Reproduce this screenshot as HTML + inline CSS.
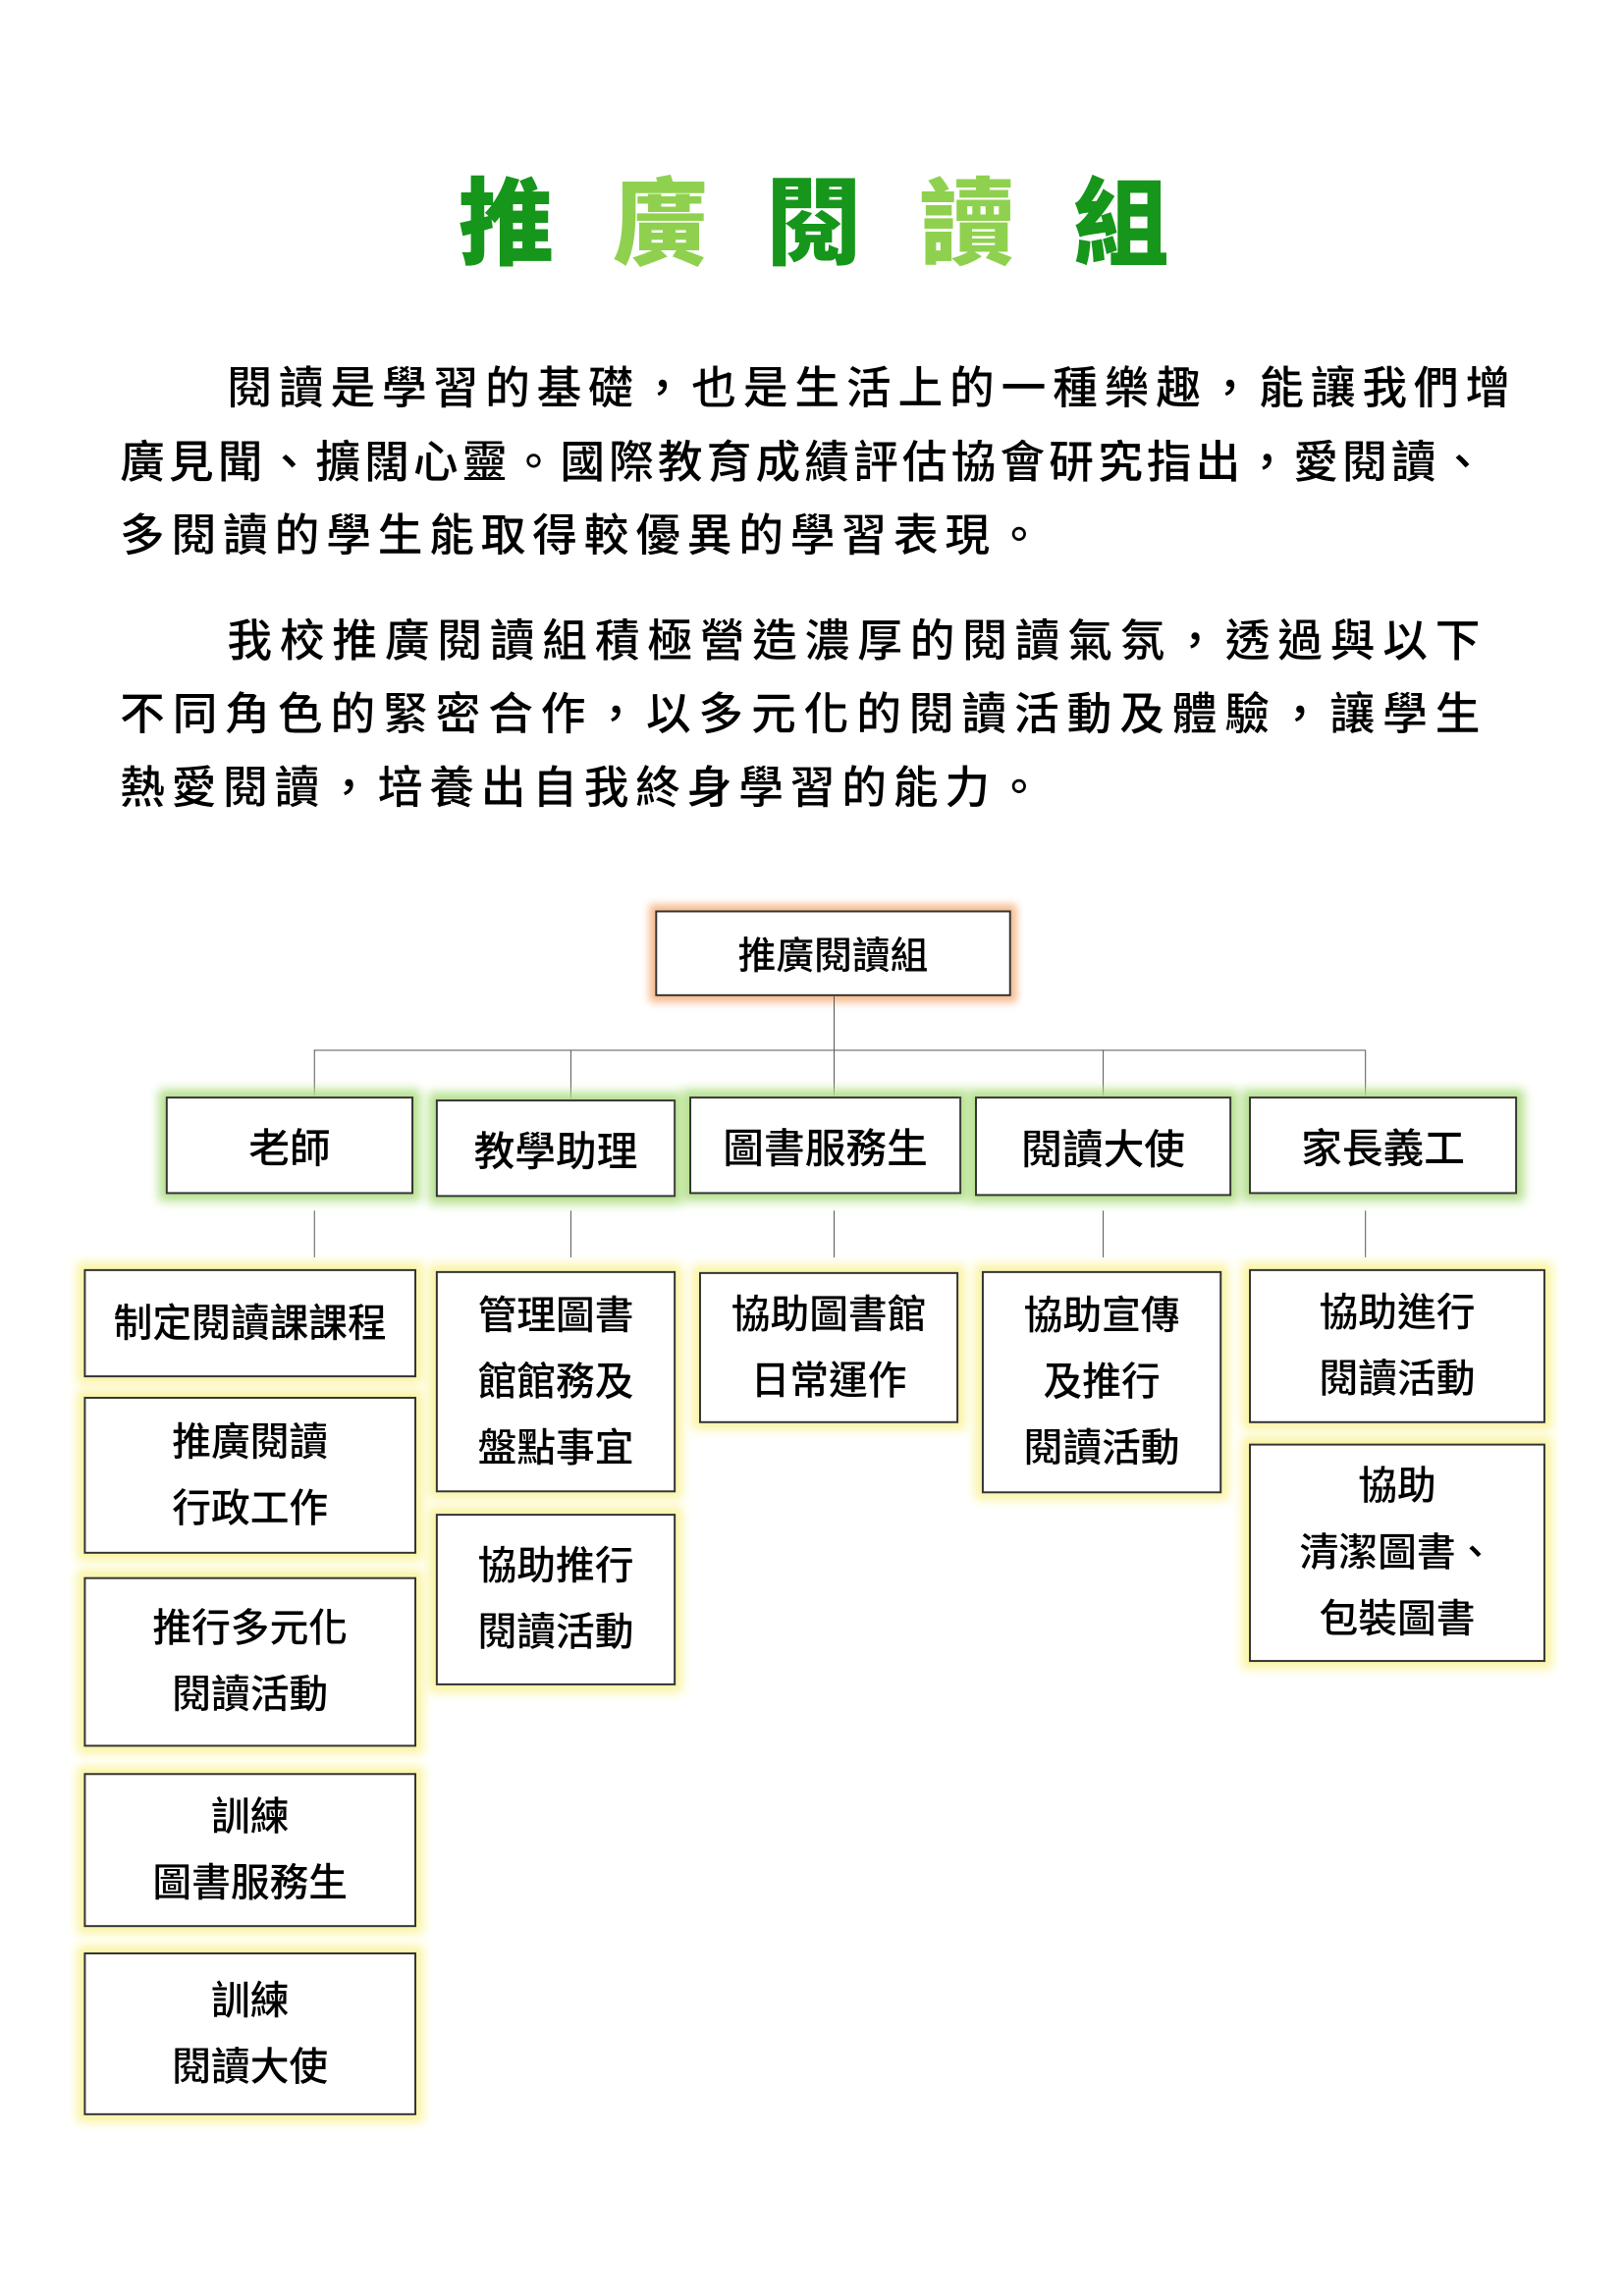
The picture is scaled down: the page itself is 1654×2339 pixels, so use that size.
<!DOCTYPE html>
<html><head><meta charset="utf-8">
<style>
html,body{margin:0;padding:0;background:#fff;}
body{width:1654px;height:2339px;position:relative;overflow:hidden;font-family:"Liberation Sans","Noto Sans CJK TC",sans-serif;color:#000;}
#w{position:absolute;left:0;top:0;width:1654px;height:2339px;transform:scale(0.993);transform-origin:0 0;}
.t{position:absolute;top:180px;font-size:98px;font-weight:900;line-height:100px;width:120px;text-align:center;}
.dk{color:#16961a;}.lt{color:#8fd14f;}
.ln{position:absolute;font-size:46px;line-height:60px;white-space:nowrap;text-align:justify;text-align-last:justify;font-weight:500;}
.b{position:absolute;box-sizing:border-box;border:2px solid #333;background:#fff;display:flex;align-items:center;justify-content:center;text-align:center;font-weight:500;}
.o{box-shadow:0 0 8px 6px #f6b98a;}
.g{box-shadow:0 0 10px 7px #b3e08a;font-size:42px;}
.y{box-shadow:0 0 10px 7px #faf4a0;font-size:40px;line-height:68px;}
.v{position:absolute;width:0;border-left:1.5px solid #555;}
.h{position:absolute;height:0;border-top:1.5px solid #555;}
</style></head><body><div id="w">
<div class="t dk" style="left:459px">推</div>
<div class="t lt" style="left:617px">廣</div>
<div class="t dk" style="left:775px">閱</div>
<div class="t lt" style="left:932px">讀</div>
<div class="t dk" style="left:1090px">組</div>

<div class="ln" style="left:233px;top:368px;width:1316px">閱讀是學習的基礎，也是生活上的一種樂趣，能讓我們增</div>
<div class="ln" style="left:123px;top:444px;width:1400px">廣見聞、擴闊心靈。國際教育成績評估協會研究指出，愛閱讀、</div>
<div class="ln" style="left:123px;top:519px;width:945px">多閱讀的學生能取得較優異的學習表現。</div>
<div class="ln" style="left:233px;top:627px;width:1285px">我校推廣閱讀組積極營造濃厚的閱讀氣氛，透過與以下</div>
<div class="ln" style="left:123px;top:702px;width:1395px">不同角色的緊密合作，以多元化的閱讀活動及體驗，讓學生</div>
<div class="ln" style="left:123px;top:778px;width:945px">熱愛閱讀，培養出自我終身學習的能力。</div>

<div class="b o" style="left:672px;top:934px;width:365px;height:88px;font-size:39px">推廣閱讀組</div>
<div class="v" style="left:855px;top:1022px;height:55px"></div>
<div class="h" style="left:322px;top:1077px;width:1078px"></div>
<div class="v" style="left:322px;top:1077px;height:48px"></div>
<div class="v" style="left:585px;top:1077px;height:51px"></div>
<div class="v" style="left:855px;top:1077px;height:48px"></div>
<div class="v" style="left:1131px;top:1077px;height:48px"></div>
<div class="v" style="left:1400px;top:1077px;height:48px"></div>

<div class="b g" style="left:170px;top:1125px;width:254px;height:100px">老師</div>
<div class="b g" style="left:447px;top:1128px;width:246px;height:100px">教學助理</div>
<div class="b g" style="left:707px;top:1125px;width:279px;height:100px">圖書服務生</div>
<div class="b g" style="left:1000px;top:1125px;width:263px;height:102px">閱讀大使</div>
<div class="b g" style="left:1281px;top:1125px;width:275px;height:100px">家長義工</div>

<div class="v" style="left:322px;top:1242px;height:48px"></div>
<div class="v" style="left:585px;top:1242px;height:48px"></div>
<div class="v" style="left:855px;top:1242px;height:48px"></div>
<div class="v" style="left:1131px;top:1242px;height:48px"></div>
<div class="v" style="left:1400px;top:1242px;height:48px"></div>

<div class="b y" style="left:86px;top:1302px;width:341px;height:111px">制定閱讀課課程</div>
<div class="b y" style="left:86px;top:1433px;width:341px;height:161px">推廣閱讀<br>行政工作</div>
<div class="b y" style="left:86px;top:1618px;width:341px;height:174px">推行多元化<br>閱讀活動</div>
<div class="b y" style="left:86px;top:1819px;width:341px;height:158px">訓練<br>圖書服務生</div>
<div class="b y" style="left:86px;top:2003px;width:341px;height:167px">訓練<br>閱讀大使</div>

<div class="b y" style="left:447px;top:1304px;width:246px;height:227px">管理圖書<br>館館務及<br>盤點事宜</div>
<div class="b y" style="left:447px;top:1553px;width:246px;height:176px">協助推行<br>閱讀活動</div>

<div class="b y" style="left:717px;top:1305px;width:266px;height:155px">協助圖書館<br>日常運作</div>

<div class="b y" style="left:1007px;top:1304px;width:246px;height:228px">協助宣傳<br>及推行<br>閱讀活動</div>

<div class="b y" style="left:1281px;top:1302px;width:304px;height:158px">協助進行<br>閱讀活動</div>
<div class="b y" style="left:1281px;top:1481px;width:304px;height:224px">協助<br>清潔圖書、<br>包裝圖書</div>
</div></body></html>
